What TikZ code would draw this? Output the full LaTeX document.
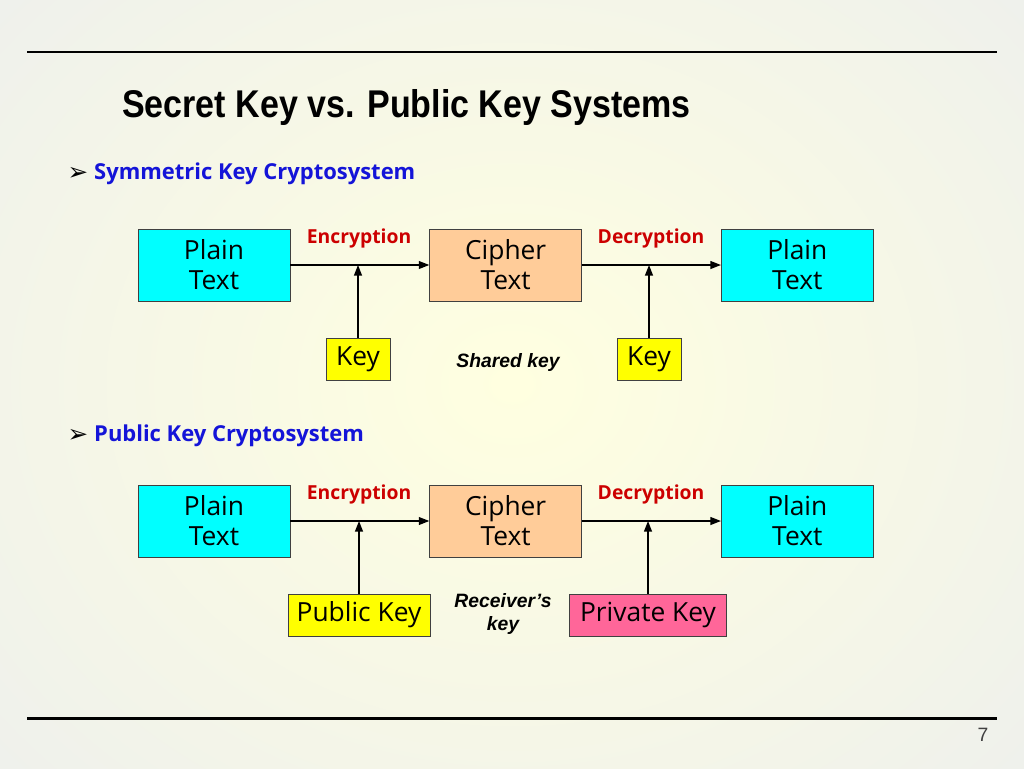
\documentclass[tikz,border=0pt]{standalone}
\usepackage{fontspec}
\usepackage{graphicx}
\setmainfont{Open Sans}
\newfontfamily\headfont{Liberation Sans}
\newfontfamily\symfont{DejaVu Sans}
\usetikzlibrary{positioning,arrows.meta}
\definecolor{Slide}{HTML}{ECEEEE}
\definecolor{Glow}{HTML}{FFFFE0}
\definecolor{PlainCyan}{HTML}{00FFFF}
\definecolor{CipherPeach}{HTML}{FFCC99}
\definecolor{KeyYellow}{HTML}{FFFF00}
\definecolor{PrivPink}{HTML}{FF6699}
\definecolor{BulletBlue}{HTML}{1414D8}
\definecolor{LabelRed}{HTML}{CC0000}
\definecolor{Frame}{HTML}{404040}
\tikzset{
  textbox/.style={draw=Frame,fill=#1,minimum width=3.04cm,minimum height=1.44cm,align=center,inner sep=0pt,font=\fontsize{15}{17}\selectfont},
  keybox/.style={draw=Frame,fill=#1,minimum height=0.84cm,inner sep=0pt,font=\fontsize{15}{17}\selectfont},
  flow/.style={-{Triangle[length=6pt,width=4.5pt]},line width=0.7pt},
  oplabel/.style={text=LabelRed,font=\fontsize{11}{13}\selectfont\bfseries},
  note/.style={align=center,font=\headfont\fontsize{11}{13}\selectfont\bfseries\itshape},
  bullet/.style={anchor=west,text=BulletBlue,font=\fontsize{12.5}{14}\selectfont\bfseries},
}

\begin{document}
\begin{tikzpicture}[x=0.02cm,y=-0.02cm]
  % slide background
  \useasboundingbox (0,0) rectangle (1024,768);
  \begin{scope}
    \clip (0,0) rectangle (1024,768);
    \shade[inner color=Glow,outer color=Slide] (-300,-300) rectangle (1324,1068);
  \end{scope}
  \draw[line width=1.7pt] (27,52) -- (997,52);
  \draw[line width=1.7pt] (27,718) -- (997,718);
  \node[anchor=west,font=\headfont\bfseries\fontsize{22}{26}\selectfont] (title) at (116,108) {\scalebox{0.88}[1]{Secret Key vs. Public Key Systems}};
  \node[font=\headfont\fontsize{11}{13}\selectfont,text=Frame] (pagenum) at (983,735) {7};

  % symmetric key
  \node[font=\symfont\fontsize{14}{16}\selectfont] (markA) at (78,174) {➢};
  \node[bullet] (symm) at (88,174) {Symmetric Key Cryptosystem};
  \node[textbox=PlainCyan] (plainA) at (214,265) {Plain\\Text};
  \node[textbox=CipherPeach,right=2.78cm of plainA] (cipherA) {Cipher\\Text};
  \node[textbox=PlainCyan,right=2.78cm of cipherA] (outA) {Plain\\Text};
  \node[keybox=KeyYellow,minimum width=1.28cm] (keyA) at (358,359) {Key};
  \node[keybox=KeyYellow,minimum width=1.28cm] (keyB) at (649,359) {Key};
  \node[oplabel] (encA) at (359,238) {Encryption};
  \node[oplabel] (decA) at (651,238) {Decryption};
  \node[note] (shared) at (508,362) {Shared key};
  \coordinate (joinA) at (keyA.north |- plainA.east);
  \coordinate (joinB) at (keyB.north |- cipherA.east);
  \draw[flow] (plainA) -- (cipherA);
  \draw[flow] (cipherA) -- (outA);
  \draw[flow] (keyA) -- (joinA);
  \draw[flow] (keyB) -- (joinB);

  % public key
  \node[font=\symfont\fontsize{14}{16}\selectfont] (markB) at (78,436) {➢};
  \node[bullet] (pubsys) at (88,436) {Public Key Cryptosystem};
  \node[textbox=PlainCyan] (plainB) at (214,521) {Plain\\Text};
  \node[textbox=CipherPeach,right=2.78cm of plainB] (cipherB) {Cipher\\Text};
  \node[textbox=PlainCyan,right=2.78cm of cipherB] (outB) {Plain\\Text};
  \node[keybox=KeyYellow,minimum width=2.84cm] (pubkey) at (359,615) {Public Key};
  \node[keybox=PrivPink,minimum width=3.14cm] (privkey) at (648,615) {Private Key};
  \node[oplabel] (encB) at (359,494) {Encryption};
  \node[oplabel] (decB) at (651,494) {Decryption};
  \node[note] (recv) at (503,614) {Receiver’s\\key};
  \coordinate (joinC) at (pubkey.north |- plainB.east);
  \coordinate (joinD) at (privkey.north |- cipherB.east);
  \draw[flow] (plainB) -- (cipherB);
  \draw[flow] (cipherB) -- (outB);
  \draw[flow] (pubkey) -- (joinC);
  \draw[flow] (privkey) -- (joinD);
\end{tikzpicture}
\end{document}
